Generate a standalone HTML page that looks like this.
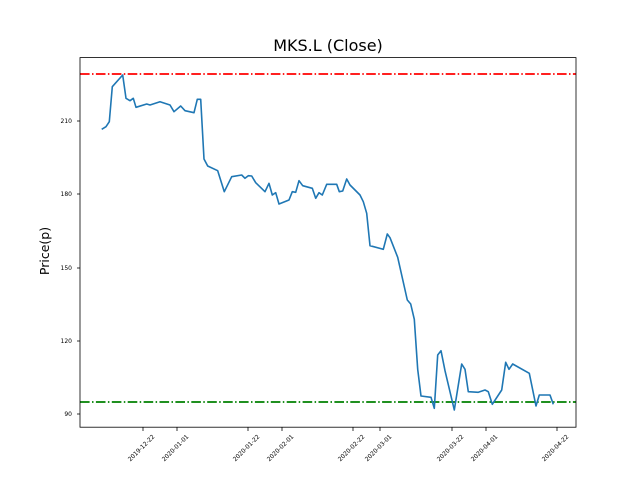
<!DOCTYPE html>
<html><head><meta charset="utf-8"><style>body{margin:0;background:#fff}svg{display:block}</style></head><body>
<svg width="640" height="480" xmlns="http://www.w3.org/2000/svg" font-family="DejaVu Sans, Liberation Sans, sans-serif">
<rect width="640" height="480" fill="#fff"/>
<line x1="80" y1="74" x2="576" y2="74" stroke="#ff0000" stroke-width="1.8" stroke-dasharray="9.6,2.4,1.5,2.4"/>
<line x1="80" y1="402" x2="576" y2="402" stroke="#008000" stroke-width="1.8" stroke-dasharray="9.6,2.4,1.5,2.4"/>
<polyline fill="none" stroke="#1f77b4" stroke-width="1.6" stroke-linejoin="round" points="101.7,129.3 106,126.7 109.3,121.7 112.3,86.7 122.7,75 126,98.3 130,100.7 133.3,98.3 136,107.3 146.7,104 150,105 160,101.7 170,105 174,111.7 180.7,106 185,110.7 194,112.7 197.3,99.3 200.7,99.3 204,159 207.7,166 217.7,170.7 224.3,191.7 231.7,176.7 241.7,175 245,178.3 248.3,175.7 251.7,176 255.7,182.7 265,191.7 269,183.3 272.3,195 275.7,192.7 279,204 289,200 292.3,191.7 295.7,192.3 299,180.7 302.7,185.7 312.3,188.3 315.7,198.3 319,192.7 322.3,195 326.7,184.3 336.7,184.3 339.3,191.7 342.7,191 346.7,179 350,185 360,195 363.3,201.7 366.7,213.3 370,245.7 383.3,249.3 387.3,234 390,237.7 397.7,257.3 407.3,300 410.7,304 414.3,319.3 417.7,369.3 421,396 431,397.3 434.3,408.3 437.7,355 441,350.7 445,370.7 454.3,410 461.7,364 465,369.3 468.3,391.7 478.3,392.3 485,390 488.3,391.7 492.3,404.3 501.7,390 505.7,362.3 509,369.3 512.7,364 529.3,373.3 536,406 539.3,395 550,395 553.3,404.3"/>
<rect x="80" y="57.6" width="496" height="369.6" fill="none" stroke="#000" stroke-width="0.8"/>
<g stroke="#000" stroke-width="0.8">
<line x1="77" y1="121" x2="80" y2="121"/><line x1="77" y1="194" x2="80" y2="194"/><line x1="77" y1="268" x2="80" y2="268"/><line x1="77" y1="341" x2="80" y2="341"/><line x1="77" y1="414" x2="80" y2="414"/>
<line x1="143" y1="427" x2="143" y2="431"/><line x1="177" y1="427" x2="177" y2="431"/><line x1="248" y1="427" x2="248" y2="431"/><line x1="282" y1="427" x2="282" y2="431"/><line x1="353" y1="427" x2="353" y2="431"/><line x1="380" y1="427" x2="380" y2="431"/><line x1="452" y1="427" x2="452" y2="431"/><line x1="486" y1="427" x2="486" y2="431"/><line x1="557" y1="427" x2="557" y2="431"/>
</g>
<g font-size="6" fill="#000" text-anchor="end">
<text x="72" y="123">210</text><text x="72" y="196">180</text><text x="72" y="270">150</text><text x="72" y="343">120</text><text x="72" y="416">90</text>
</g>
<g font-size="6" fill="#000" text-anchor="end">
<text transform="translate(155,437) rotate(-45)">2019-12-22</text>
<text transform="translate(189,437) rotate(-45)">2020-01-01</text>
<text transform="translate(260,437) rotate(-45)">2020-01-22</text>
<text transform="translate(294,437) rotate(-45)">2020-02-01</text>
<text transform="translate(365,437) rotate(-45)">2020-02-22</text>
<text transform="translate(392,437) rotate(-45)">2020-03-01</text>
<text transform="translate(464,437) rotate(-45)">2020-03-22</text>
<text transform="translate(498,437) rotate(-45)">2020-04-01</text>
<text transform="translate(569,437) rotate(-45)">2020-04-22</text>
</g>
<text x="328" y="51" font-size="16" text-anchor="middle">MKS.L (Close)</text>
<text transform="translate(49,251) rotate(-90)" font-size="12.5" text-anchor="middle">Price(p)</text>
</svg>
</body></html>
